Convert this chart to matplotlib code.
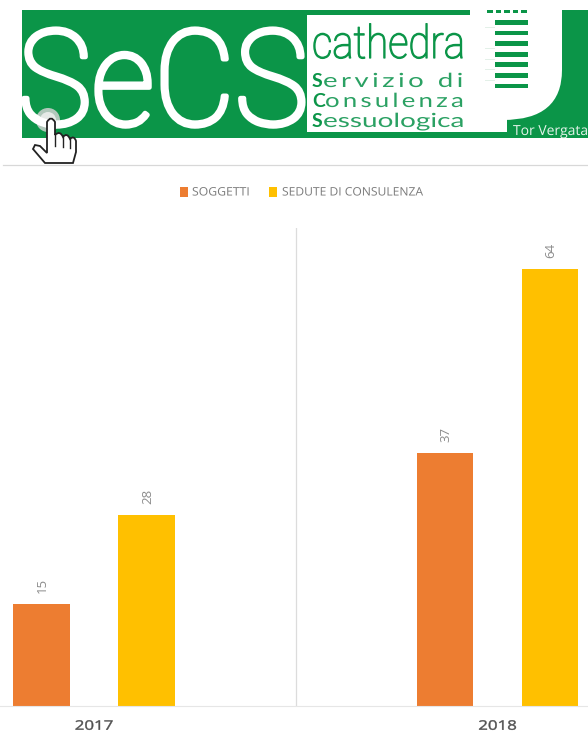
import matplotlib
matplotlib.use("Agg")
import matplotlib.pyplot as plt
from matplotlib.patches import Rectangle, Circle, PathPatch
from matplotlib.patheffects import AbstractPathEffect
from matplotlib.path import Path
from matplotlib.transforms import Affine2D

W, H = 588, 735
years = ["2017", "2018"]
soggetti = [15, 37]
sedute = [28, 64]
series_names = ["SOGGETTI", "SEDUTE DI CONSULENZA"]

ORANGE = "#ED7D31"
YELLOW = "#FFC000"
GREEN = "#0B9548"
LIGHT = "#8c8c8c"
THIN = "\u2009"

plt.rcParams["font.family"] = ["Open Sans", "DejaVu Sans"]
fig = plt.figure(figsize=(W / 100, H / 100), dpi=100)
rend = fig.canvas.get_renderer()


class Stretch(AbstractPathEffect):
    # real text, only squeezed or stretched around a point when drawn
    def __init__(self, x0, y0, sx=1.0, sy=1.0, stroke=0.0):
        super().__init__()
        self.x0, self.y0, self.sx, self.sy, self.stroke = x0, y0, sx, sy, stroke

    def draw_path(self, renderer, gc, tpath, affine, rgbFace=None):
        t = affine + Affine2D().translate(-self.x0, -self.y0).scale(self.sx, self.sy).translate(self.x0, self.y0)
        if self.stroke:
            gc0 = renderer.new_gc()
            gc0.copy_properties(gc)
            gc0.set_foreground(rgbFace, isRGBA=True)
            gc0.set_linewidth(self.stroke)
            renderer.draw_path(gc0, tpath, t, rgbFace)
            gc0.restore()
        else:
            renderer.draw_path(gc, tpath, t, rgbFace)


def fit_text(ax, x0, x1, base, s, sy=1.0, stroke=0.0, **kw):
    t = ax.text(x0, base, s, ha="left", va="baseline", **kw)
    w = t.get_window_extent(rend).width
    t.set_path_effects([Stretch(x0, H - base, (x1 - x0) / w, sy, stroke)])
    return t


# chart area
ax = fig.add_axes([0, (H - 706) / H, 1, (706 - 228) / H])
x_pos = [0, 1]
off, bw = 0.13, 0.14
b1 = ax.bar([x - off for x in x_pos], soggetti, bw, color=ORANGE)
b2 = ax.bar([x + off for x in x_pos], sedute, bw, color=YELLOW)
for bars in (b1, b2):
    for b in bars:
        ax.annotate(str(int(b.get_height())), (b.get_x() + b.get_width() / 2, b.get_height()),
                    xytext=(1, 11), textcoords="offset pixels", rotation=90,
                    ha="center", va="bottom", fontsize=9.5, color=LIGHT)
ax.set_xlim(-94 / 403.5, (588 - 94) / 403.5)
ax.set_ylim(0, 478 / 6.83)
ax.set_yticks([])
ax.set_xticks(x_pos)
ax.set_xticklabels(years, fontsize=9, color="#505050")
ax.tick_params(axis="x", length=0, pad=10)
for s in ("top", "left", "right"):
    ax.spines[s].set_visible(False)
ax.spines["bottom"].set_color("#e6e6e6")
ax.axvline(0.5, color="#dcdcdc", lw=0.9)
for t in ax.get_xticklabels():
    bb = t.get_window_extent(rend)
    t.set_path_effects([Stretch((bb.x0 + bb.x1) / 2, bb.y0, 1.35, 1.05, 0.3)])

# everything above the chart, in picture pixels
ov = fig.add_axes([0, 0, 1, 1], facecolor="none")
ov.set_xlim(0, W)
ov.set_ylim(H, 0)
ov.axis("off")

ov.add_patch(Rectangle((22, 10), 566, 128, color=GREEN, lw=0))
ov.add_patch(Rectangle((307, 15), 200, 117, color="white", lw=0))
shield = Path([(470, 10), (562, 10), (562, 70), (562, 120), (503, 120), (503, 132), (470, 132), (470, 10)],
              [Path.MOVETO, Path.LINETO, Path.LINETO, Path.CURVE3, Path.CURVE3, Path.LINETO, Path.LINETO, Path.CLOSEPOLY])
ov.add_patch(PathPatch(shield, fc="white", ec="none"))
for y in [20, 30.5, 41, 52, 62, 73, 83.5]:
    ov.add_patch(Rectangle((495, y), 33, 4.6, color=GREEN, lw=0))
    ov.add_patch(Rectangle((485, y + 7), 10, 0.6, color="#e3f0e8", lw=0))
for x in [487, 495.5, 504, 512.5, 521]:
    ov.add_patch(Rectangle((x, 10), 5.5, 3.2, color=GREEN, lw=0))

fit_text(ov, 18, 308, 125, "SeCS", sy=1.13, stroke=3.5, color="white", fontsize=85, family="Roboto", weight="light")
fit_text(ov, 312, 465, 58, "cathedra", stroke=0.9, color=GREEN, fontsize=33, family="Roboto", weight="light")
fit_text(ov, 513, 588, 135, "Tor Vergata", color="#e4f3ea", fontsize=10)

first_letters = ["S", "C", "S"]
rest = [THIN.join("ervizio") + "  " + THIN.join("di"), THIN.join("onsulenza"), "essuologica"]
first_x = [312, 312, 312]
rest_x = [323, 325, 323]
bases = [87, 107, 127]
for c, r, fx, rx, y in zip(first_letters, rest, first_x, rest_x, bases):
    ov.text(fx, y, c, color=GREEN, fontsize=14, fontweight="bold", family="Lato", ha="left", va="baseline")
    fit_text(ov, rx, 465, y, r, color="#2ba163", fontsize=14, family=["Lato", "DejaVu Sans"])

# hand cursor
ov.add_patch(Circle((48, 120), 12, color="#c4cec8", alpha=0.9, lw=0))
ov.add_patch(Circle((48, 120), 8, color="#e6eae7", lw=0))
hand_pts = [(45, 163), (33, 149), (35, 145), (40, 146), (47, 153), (47, 122), (51, 115), (55, 122),
            (55, 135), (60, 130), (63, 137), (67, 132), (70, 139), (74, 135), (76, 141), (76, 152), (73, 163), (45, 163)]
hand_codes = [Path.MOVETO, Path.LINETO, Path.LINETO, Path.LINETO, Path.LINETO, Path.LINETO, Path.CURVE3, Path.CURVE3,
              Path.LINETO, Path.CURVE3, Path.CURVE3, Path.CURVE3, Path.CURVE3, Path.CURVE3, Path.CURVE3, Path.LINETO,
              Path.LINETO, Path.CLOSEPOLY]
ov.add_patch(PathPatch(Path(hand_pts, hand_codes), fc="white", ec="#222222", lw=1.3, zorder=3))
ov.plot([63, 63], [137, 147], color="#222222", lw=1, zorder=4)
ov.plot([70, 70], [139, 148], color="#222222", lw=1, zorder=4)
ov.plot([55, 55], [135, 146], color="#222222", lw=1, zorder=4)

# header rule and legend
ov.plot([3, 588], [164.5, 164.5], color="#d8d8d8", lw=0.9)
ov.add_patch(Rectangle((180, 187), 8, 10, color=ORANGE, lw=0))
fit_text(ov, 192, 250, 195.5, series_names[0], color="#7a7a7a", fontsize=8.4)
ov.add_patch(Rectangle((269, 187), 8, 10, color=YELLOW, lw=0))
fit_text(ov, 282, 423, 195.5, series_names[1], color="#7a7a7a", fontsize=8.4)

fig.savefig("out.png", dpi=100)
